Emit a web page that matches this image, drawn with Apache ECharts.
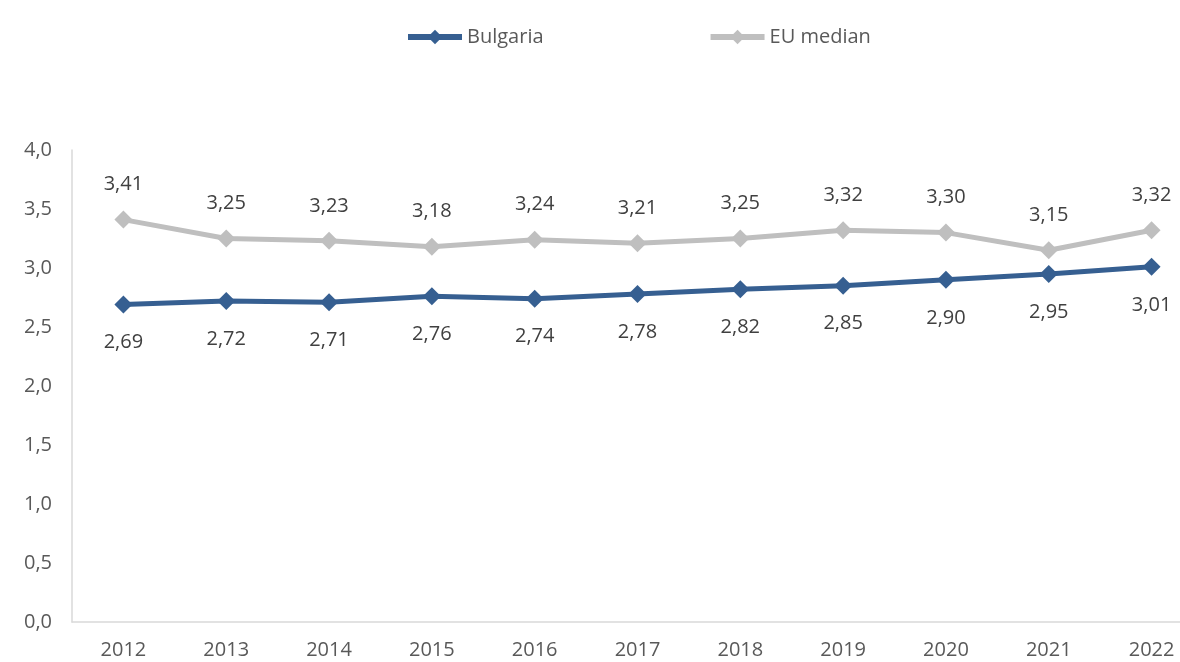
<!DOCTYPE html>
<html>
<head>
<meta charset="utf-8">
<script src="https://cdn.jsdelivr.net/npm/echarts@6/dist/echarts.min.js"></script>
<style>
  html, body { margin: 0; padding: 0; background: #fff; overflow: hidden; }
  /* plot continues past the right edge, as in the reference */
  #chart { width: 1203px; height: 662px; }
</style>
</head>
<body>
<div id="chart"></div>
<script>
const years = ['2012', '2013', '2014', '2015', '2016', '2017', '2018', '2019', '2020', '2021', '2022'];
const bulgaria = [2.69, 2.72, 2.71, 2.76, 2.74, 2.78, 2.82, 2.85, 2.90, 2.95, 3.01];
const euMedian = [3.41, 3.25, 3.23, 3.18, 3.24, 3.21, 3.25, 3.32, 3.30, 3.15, 3.32];

const font = '"Open Sans", sans-serif';
const comma = (v, d) => v.toFixed(d).replace('.', ',');

const chart = echarts.init(document.getElementById('chart'));

chart.setOption({
    animation: false,
    textStyle: { fontFamily: font },
    legend: {
        top: 22,
        left: 400,
        itemWidth: 54,
        itemHeight: 18,
        itemGap: 164,
        textStyle: { fontSize: 20, color: '#595959', fontFamily: font },
        data: [
            { name: 'Bulgaria', lineStyle: { width: 6 } },
            { name: 'EU median', lineStyle: { width: 6 } }
        ]
    },
    grid: { left: 72, top: 150, right: 0, bottom: 40 },
    xAxis: {
        type: 'category',
        data: years,
        boundaryGap: true,
        axisLine: { lineStyle: { color: '#d9d9d9', width: 1.5 } },
        axisTick: { show: false },
        axisLabel: { fontSize: 20, color: '#595959', margin: 18, fontFamily: font }
    },
    yAxis: {
        type: 'value',
        min: 0,
        max: 4,
        interval: 0.5,
        splitLine: { show: false },
        axisLine: { show: true, lineStyle: { color: '#d9d9d9', width: 1.5 } },
        axisTick: { show: false },
        axisLabel: { fontSize: 20, color: '#595959', margin: 20, fontFamily: font,
            formatter: v => comma(v, 1) }
    },
    series: [
        {
            name: 'Bulgaria',
            type: 'line',
            data: bulgaria,
            symbol: 'diamond',
            symbolSize: 18,
            lineStyle: { color: '#365f91', width: 5 },
            itemStyle: { color: '#365f91' },
            label: { show: true, position: 'bottom', distance: 19, fontSize: 20,
                color: '#404040', fontFamily: font, formatter: p => comma(p.value, 2) }
        },
        {
            name: 'EU median',
            type: 'line',
            data: euMedian,
            symbol: 'diamond',
            symbolSize: 18,
            lineStyle: { color: '#bfbfbf', width: 5 },
            itemStyle: { color: '#bfbfbf' },
            label: { show: true, position: 'top', distance: 16, fontSize: 20,
                color: '#404040', fontFamily: font, formatter: p => comma(p.value, 2) }
        }
    ]
});
</script>
</body>
</html>
